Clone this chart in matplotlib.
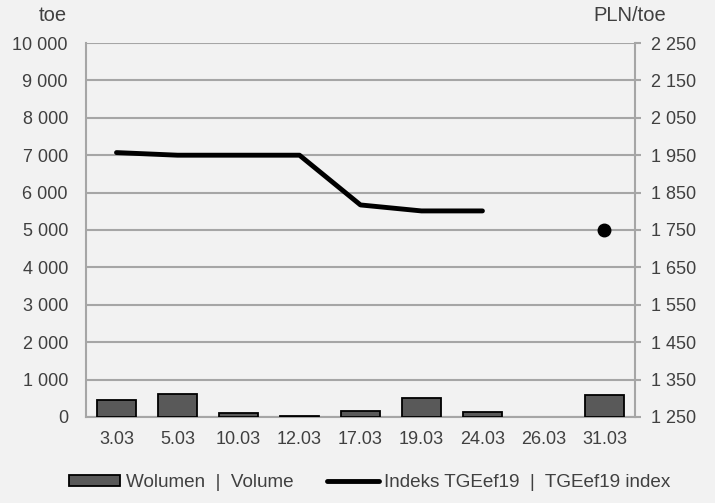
import numpy as np
import matplotlib.pyplot as plt
from matplotlib.ticker import FuncFormatter

plt.rcParams['font.family'] = ['Liberation Sans', 'DejaVu Sans']

dates = ["3.03", "5.03", "10.03", "12.03", "17.03", "19.03", "24.03", "26.03", "31.03"]
volume = [450, 610, 110, 30, 160, 520, 130, np.nan, 590]
index = [1957, 1950, 1950, 1950, 1817, 1801, 1801, np.nan, 1750]

bg = "#f2f2f2"
grid_c = "#a6a6a6"
txt_c = "#404040"
fs = 13

def fmt(v, pos):
    return "{:,.0f}".format(v).replace(",", " ")

fig = plt.figure(figsize=(7.15, 5.03), dpi=100, facecolor=bg)
ax = fig.add_axes([0.1203, 0.171, 0.7677, 0.7435])
ax.set_facecolor(bg)
x = np.arange(len(dates))

bars = ax.bar(x, volume, width=0.65, color="#595959", edgecolor="black", linewidth=1.3, zorder=3)
ax.set_ylim(0, 10000)
ax.set_yticks(np.arange(0, 10001, 1000))
ax.yaxis.set_major_formatter(FuncFormatter(fmt))
ax.set_xlim(-0.5, len(dates) - 0.5)
ax.set_xticks(x)
ax.set_xticklabels(dates)
ax.grid(axis="y", color=grid_c, linewidth=1.5, zorder=0)
ax.tick_params(axis="y", length=0, labelsize=fs, colors=txt_c, pad=13)
ax.tick_params(axis="x", length=0, labelsize=fs, colors=txt_c, pad=10)
for s in ["top", "right"]:
    ax.spines[s].set_visible(False)
for s in ["left", "bottom"]:
    ax.spines[s].set_color(grid_c)
    ax.spines[s].set_linewidth(1.5)

ax2 = ax.twinx()
ln, = ax2.plot(x, index, color="black", linewidth=3.5, solid_capstyle="round", zorder=4)
ax2.plot(x[-1], index[-1], "o", color="black", markersize=9, zorder=4)
ax2.set_ylim(1250, 2250)
ax2.set_yticks(np.arange(1250, 2251, 100))
ax2.yaxis.set_major_formatter(FuncFormatter(fmt))
ax2.tick_params(axis="y", length=4.5, width=1.5, color=grid_c, labelsize=fs, labelcolor=txt_c, pad=7)
for s in ["top", "left", "bottom"]:
    ax2.spines[s].set_visible(False)
ax2.spines["right"].set_color(grid_c)
ax2.spines["right"].set_linewidth(1.5)

fig.text(0.0937, 0.97, "toe", ha="right", va="center", fontsize=14.5, color=txt_c)
fig.text(0.932, 0.97, "PLN/toe", ha="right", va="center", fontsize=14.5, color=txt_c)

leg = fig.legend([bars, ln], ["Wolumen  |  Volume", "Indeks TGEef19  |  TGEef19 index"],
                 loc="center", bbox_to_anchor=(0.517, 0.04), ncol=2, frameon=False,
                 fontsize=13.6, handlelength=2.75, handleheight=0.55, handletextpad=0.3,
                 columnspacing=1.75)
for t in leg.get_texts():
    t.set_color(txt_c)

fig.savefig("out.png", dpi=100, facecolor=bg)
